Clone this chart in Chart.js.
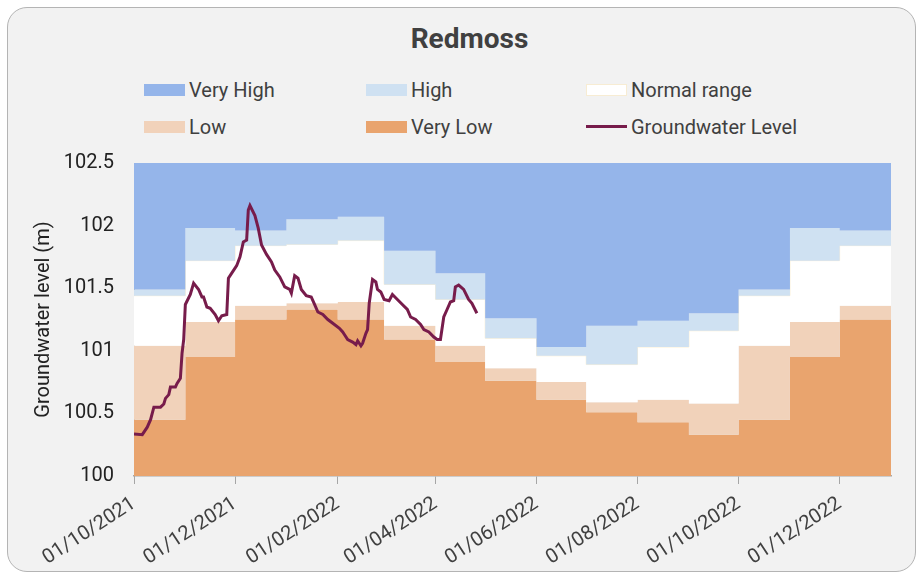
<!DOCTYPE html>
<html>
<head>
<meta charset="utf-8">
<script src="https://cdn.jsdelivr.net/npm/chart.js@4.4.1/dist/chart.umd.min.js"></script>
<style>
  html, body { margin: 0; padding: 0; background: #ffffff; }
  body { width: 923px; height: 576px; position: relative; overflow: hidden; font-family: Roboto, "Noto Sans", sans-serif; }
  #card { position: absolute; left: 7px; top: 7px; width: 909px; height: 565px; background: #f2f2f2; border: 1px solid #b4b4b4; border-radius: 20px; box-sizing: border-box; }
  #title { position: absolute; left: 8px; width: 923px; top: 22px; text-align: center; font-size: 28px; font-weight: bold; color: #404040; line-height: 34px; }
  .lg { position: absolute; font-size: 20px; color: #404040; line-height: 24px; white-space: nowrap; }
  .sw { position: absolute; width: 41px; height: 12px; }
  .ln { position: absolute; width: 41px; height: 3px; }
  #wrap { position: absolute; left: 0; top: 0; width: 923px; height: 576px; }
</style>
</head>
<body>
<div id="card"></div>
<div id="title">Redmoss</div>
<div id="legend"></div>
<div id="wrap"><canvas id="c" width="923" height="576"></canvas></div>
<script>
// ---- data ----
const monthStarts = ['2021-10-01','2021-11-01','2021-12-01','2022-01-01','2022-02-01','2022-03-01','2022-04-01','2022-05-01','2022-06-01','2022-07-01','2022-08-01','2022-09-01','2022-10-01','2022-11-01','2022-12-01'];
const rangeEnd = '2023-01-01';
const veryLowTop = [100.45,100.95,101.25,101.33,101.25,101.09,100.91,100.76,100.61,100.51,100.43,100.33,100.45,100.95,101.25];
const lowTop     = [101.04,101.23,101.36,101.38,101.39,101.20,101.04,100.86,100.75,100.59,100.61,100.58,101.04,101.23,101.36];
const normalTop  = [101.44,101.72,101.84,101.85,101.88,101.53,101.41,101.10,100.96,100.89,101.03,101.16,101.44,101.72,101.84];
const highTop    = [101.49,101.98,101.96,102.05,102.07,101.80,101.62,101.26,101.03,101.20,101.24,101.30,101.49,101.98,101.96];

const gwDates = ['2021-10-01','2021-10-06','2021-10-09','2021-10-11','2021-10-13','2021-10-17','2021-10-19','2021-10-20','2021-10-22','2021-10-23','2021-10-26','2021-10-27','2021-10-29','2021-10-30','2021-10-31',
 '2021-11-01','2021-11-04','2021-11-06','2021-11-09','2021-11-11','2021-11-12','2021-11-14','2021-11-16','2021-11-19','2021-11-21','2021-11-23','2021-11-26','2021-11-27','2021-11-29',
 '2021-12-02','2021-12-04','2021-12-06','2021-12-08','2021-12-09','2021-12-10','2021-12-13','2021-12-15','2021-12-17','2021-12-20','2021-12-23','2021-12-25','2021-12-28','2021-12-31',
 '2022-01-03','2022-01-04','2022-01-06','2022-01-08','2022-01-10','2022-01-13','2022-01-16','2022-01-18','2022-01-20','2022-01-23','2022-01-26','2022-01-29',
 '2022-02-02','2022-02-04','2022-02-05','2022-02-07','2022-02-10','2022-02-12','2022-02-13','2022-02-15','2022-02-16','2022-02-18','2022-02-19','2022-02-20','2022-02-22','2022-02-24','2022-02-25','2022-02-27',
 '2022-03-01','2022-03-04','2022-03-06','2022-03-09','2022-03-12','2022-03-15','2022-03-17','2022-03-20','2022-03-23','2022-03-25','2022-03-28','2022-03-31',
 '2022-04-02','2022-04-04','2022-04-06','2022-04-08','2022-04-10','2022-04-12','2022-04-13','2022-04-15','2022-04-18','2022-04-21','2022-04-23','2022-04-26'];
const gwLevels = [100.335,100.33,100.39,100.45,100.55,100.55,100.575,100.62,100.65,100.71,100.71,100.74,100.78,100.98,101.09,
 101.37,101.45,101.54,101.49,101.43,101.43,101.35,101.34,101.29,101.24,101.28,101.29,101.58,101.62,
 101.68,101.75,101.87,101.885,102.125,102.16,102.08,101.98,101.845,101.77,101.71,101.645,101.59,101.51,
 101.49,101.46,101.60,101.58,101.49,101.44,101.43,101.37,101.31,101.29,101.25,101.22,
 101.18,101.15,101.13,101.09,101.07,101.05,101.08,101.04,101.06,101.14,101.17,101.38,101.57,101.55,101.49,101.47,
 101.41,101.40,101.45,101.41,101.37,101.33,101.27,101.25,101.21,101.17,101.15,101.11,
 101.09,101.09,101.27,101.33,101.39,101.40,101.51,101.525,101.49,101.41,101.38,101.30];

const tickDates = ['2021-10-01','2021-12-01','2022-02-01','2022-04-01','2022-06-01','2022-08-01','2022-10-01','2022-12-01'];
const yTicks = { min: 100, max: 102.5, step: 0.5 };
const seriesNames = ['Very High','High','Normal range','Low','Very Low','Groundwater Level'];

// ---- helpers ----
const DAY = 86400000;
const origin = Date.parse(monthStarts[0]);
const dayOf = s => (Date.parse(s) - origin) / DAY;
function bandPoints(vals) {
  const pts = monthStarts.map((m, i) => ({ x: dayOf(m), y: vals[i] }));
  pts.push({ x: dayOf(rangeEnd), y: vals[vals.length - 1] });
  return pts;
}
function fmt(v) {
  const d = new Date(origin + v * DAY);
  const p = n => String(n).padStart(2, '0');
  return p(d.getUTCDate()) + '/' + p(d.getUTCMonth() + 1) + '/' + d.getUTCFullYear();
}

const colors = {
  veryHigh: '#95b5ea', high: '#cfe1f2', normal: '#ffffff', low: '#f1d2ba', veryLow: '#e9a46e', gw: '#771c4b'
};

// ---- HTML legend ----
const legendItems = [
  { name: seriesNames[0], color: colors.veryHigh, x: 144, y: 90 },
  { name: seriesNames[1], color: colors.high, x: 366, y: 90 },
  { name: seriesNames[2], color: colors.normal, x: 586, y: 90, border: '#f7ecd3' },
  { name: seriesNames[3], color: colors.low, x: 144, y: 126.5 },
  { name: seriesNames[4], color: colors.veryLow, x: 366, y: 126.5 },
  { name: seriesNames[5], color: colors.gw, x: 586, y: 126.5, line: true }
];
const lg = document.getElementById('legend');
legendItems.forEach(it => {
  const s = document.createElement('div');
  if (it.line) {
    s.className = 'ln';
    s.style.left = it.x + 'px'; s.style.top = (it.y - 1.5) + 'px';
  } else {
    s.className = 'sw';
    s.style.left = it.x + 'px'; s.style.top = (it.y - 6) + 'px';
    if (it.border) { s.style.boxShadow = 'inset 0 0 0 1px ' + it.border; }
  }
  s.style.background = it.color;
  lg.appendChild(s);
  const t = document.createElement('div');
  t.className = 'lg';
  t.textContent = it.name;
  t.style.left = (it.x + 45) + 'px';
  t.style.top = (it.y - 12) + 'px';
  lg.appendChild(t);
});

// ---- chart ----
Chart.defaults.font.family = 'Roboto';
const bandCommon = { stepped: 'before', pointRadius: 0, borderWidth: 0, tension: 0 };
new Chart(document.getElementById('c'), {
  type: 'line',
  data: {
    datasets: [
      Object.assign({ label: seriesNames[0], data: bandPoints(highTop), backgroundColor: colors.veryHigh, borderColor: colors.veryHigh, fill: 'end' }, bandCommon),
      Object.assign({ label: seriesNames[1], data: bandPoints(highTop), backgroundColor: colors.high, borderColor: colors.high, fill: 2 }, bandCommon),
      Object.assign({ label: seriesNames[2], data: bandPoints(normalTop), backgroundColor: colors.normal, fill: 3 }, bandCommon, { borderWidth: 1, borderColor: '#fbf0d6' }),
      Object.assign({ label: seriesNames[3], data: bandPoints(lowTop), backgroundColor: colors.low, borderColor: colors.low, fill: 4 }, bandCommon),
      Object.assign({ label: seriesNames[4], data: bandPoints(veryLowTop), backgroundColor: colors.veryLow, borderColor: colors.veryLow, fill: 'start' }, bandCommon),
      { label: seriesNames[5], data: gwDates.map((d, i) => ({ x: dayOf(d), y: gwLevels[i] })), borderColor: colors.gw, backgroundColor: colors.gw,
        borderWidth: 3, pointRadius: 0, fill: false, tension: 0, order: -1 }
    ]
  },
  options: {
    responsive: false,
    animation: false,
    events: [],
    layout: { padding: { left: 20, right: 32, top: 163, bottom: 0 } },
    plugins: { legend: { display: false }, tooltip: { enabled: false }, title: { display: false } },
    scales: {
      x: {
        type: 'linear',
        min: 0,
        max: dayOf(rangeEnd),
        afterBuildTicks: scale => { scale.ticks = tickDates.map(d => ({ value: dayOf(d) })); },
        afterFit: scale => { scale.height = 100; },
        grid: { drawOnChartArea: false, drawTicks: true, tickLength: 8, color: '#a6a6a6', lineWidth: 1 },
        border: { color: '#a6a6a6', width: 1.5 },
        ticks: { autoSkip: false, minRotation: 33, maxRotation: 33, padding: 8, color: '#404040', font: { size: 20 }, callback: v => fmt(v) }
      },
      y: {
        min: yTicks.min,
        max: yTicks.max,
        afterFit: scale => { scale.width = 114; },
        grid: { drawOnChartArea: false, drawTicks: false },
        border: { color: '#a6a6a6', width: 1 },
        ticks: { stepSize: yTicks.step, padding: 20, color: '#222222', font: { size: 20 }, callback: v => String(Number(v.toFixed(1))) },
        title: { display: true, text: 'Groundwater level (m)', color: '#222222', font: { size: 20 }, padding: { top: 12, bottom: 0 } }
      }
    }
  }
});
</script>
</body>
</html>
